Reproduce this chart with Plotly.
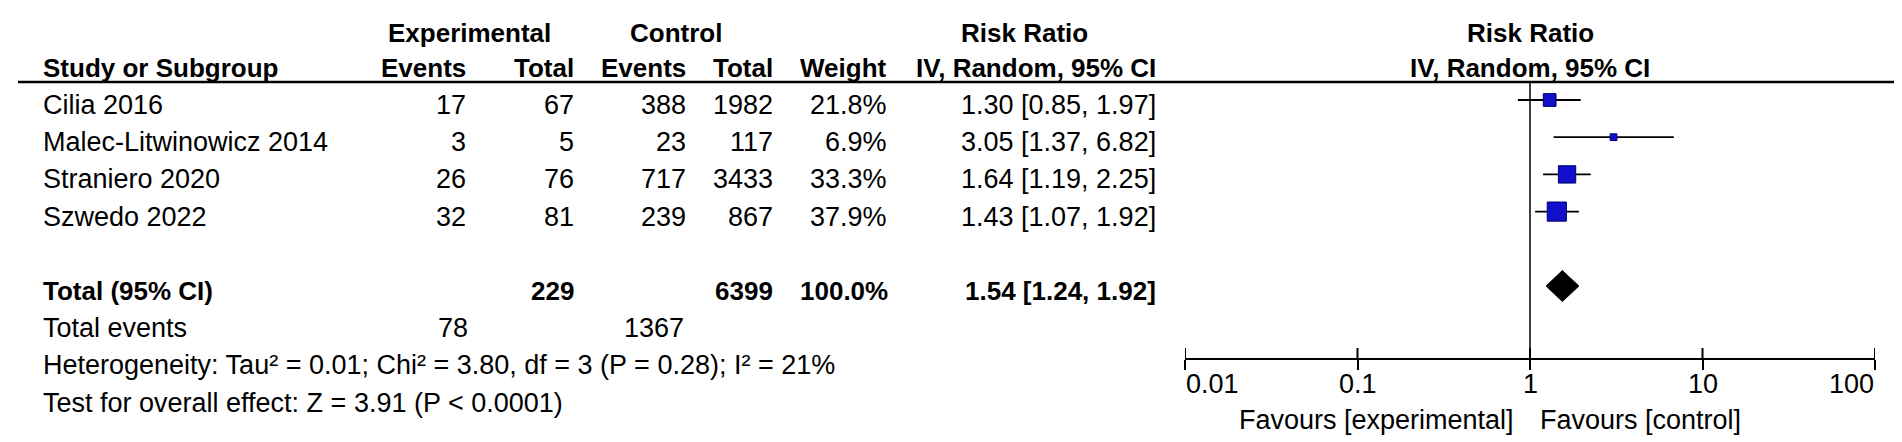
import math
import plotly.graph_objects as go

# ---------------- data ----------------
studies = ["Cilia 2016", "Malec-Litwinowicz 2014", "Straniero 2020", "Szwedo 2022"]
exp_events = [17, 3, 26, 32]
exp_total = [67, 5, 76, 81]
ctl_events = [388, 23, 717, 239]
ctl_total = [1982, 117, 3433, 867]
weights = [21.8, 6.9, 33.3, 37.9]
rr = [1.30, 3.05, 1.64, 1.43]
ci_low = [0.85, 1.37, 1.19, 1.07]
ci_high = [1.97, 6.82, 2.25, 1.92]

total_label = "Total (95% CI)"
total_exp = 229
total_ctl = 6399
total_weight = "100.0%"
pooled_rr = 1.54
pooled_low = 1.24
pooled_high = 1.92

events_label = "Total events"
total_exp_events = 78
total_ctl_events = 1367

heterogeneity = "Heterogeneity: Tau² = 0.01; Chi² = 3.80, df = 3 (P = 0.28); I² = 21%"
overall = "Test for overall effect: Z = 3.91 (P < 0.0001)"

axis_ticks = [0.01, 0.1, 1, 10, 100]
axis_tick_labels = ["0.01", "0.1", "1", "10", "100"]
favours_left = "Favours [experimental]"
favours_right = "Favours [control]"

# ---------------- layout constants ----------------
W, H = 1902, 442
FONT = "Liberation Sans, Arial, sans-serif"
NORM = 27
BOLD = 26
AX_LEFT, AX_RIGHT = 1177, 1867
AX_Y = 350
HLINE_Y = 74
ROW0, STEP = 97, 37.2
MARK_SHIFT = -5
HEAD1_Y, HEAD2_Y = 25, 60
TICKLAB_Y, FAV_Y = 376, 412

def row_y(i):
    return ROW0 + i * STEP

COL_NAME = 34
COL_EXP_EV = 459
COL_EXP_TOT = 567
COL_CTL_EV = 679
COL_CTL_TOT = 766
COL_W = 880
COL_CI = 1149

fig = go.Figure()

def txt(x, y, s, anchor="right", bold=False, size=None):
    fig.add_annotation(
        x=x / W, y=1 - y / H, xref="paper", yref="paper",
        text=f"<b>{s}</b>" if bold else s, showarrow=False,
        xanchor=anchor, yanchor="middle", borderpad=0,
        font=dict(family=FONT, size=size or (BOLD if bold else NORM), color="black"),
    )

# header
txt(461, HEAD1_Y, "Experimental", "center", True)
txt(668, HEAD1_Y, "Control", "center", True)
txt(1016, HEAD1_Y, "Risk Ratio", "center", True)
txt(COL_NAME, HEAD2_Y, "Study or Subgroup", "left", True)
txt(COL_EXP_EV, HEAD2_Y, "Events", "right", True)
txt(COL_EXP_TOT, HEAD2_Y, "Total", "right", True)
txt(COL_CTL_EV, HEAD2_Y, "Events", "right", True)
txt(COL_CTL_TOT, HEAD2_Y, "Total", "right", True)
txt(COL_W, HEAD2_Y, "Weight", "right", True)
txt(COL_CI, HEAD2_Y, "IV, Random, 95% CI", "right", True)

# plot headers centred on the line of no effect
for yy, s in [(HEAD1_Y, "Risk Ratio"), (HEAD2_Y, "IV, Random, 95% CI")]:
    fig.add_annotation(x=math.log10(1), y=1 - yy / H, xref="x", yref="paper", text=f"<b>{s}</b>",
                       showarrow=False, xanchor="center", yanchor="middle", borderpad=0,
                       font=dict(family=FONT, size=BOLD, color="black"))

fig.add_shape(type="line", xref="paper", yref="paper", x0=10 / W, x1=1891 / W,
              y0=1 - HLINE_Y / H, y1=1 - HLINE_Y / H, line=dict(color="black", width=2.5))

# study rows
for i, s in enumerate(studies):
    y = row_y(i)
    txt(COL_NAME, y, s, "left")
    txt(COL_EXP_EV, y, str(exp_events[i]))
    txt(COL_EXP_TOT, y, str(exp_total[i]))
    txt(COL_CTL_EV, y, str(ctl_events[i]))
    txt(COL_CTL_TOT, y, str(ctl_total[i]))
    txt(COL_W, y, f"{weights[i]:.1f}%")
    txt(COL_CI, y, f"{rr[i]:.2f} [{ci_low[i]:.2f}, {ci_high[i]:.2f}]")

# total rows
yt = row_y(5)
txt(COL_NAME, yt, total_label, "left", True)
txt(COL_EXP_TOT, yt, str(total_exp), "right", True)
txt(COL_CTL_TOT, yt, str(total_ctl), "right", True)
txt(COL_W + 1, yt, total_weight, "right", True)
txt(COL_CI, yt, f"{pooled_rr:.2f} [{pooled_low:.2f}, {pooled_high:.2f}]", "right", True)

ye = row_y(6)
txt(COL_NAME, ye, events_label, "left")
txt(COL_EXP_EV + 2, ye, str(total_exp_events))
txt(COL_CTL_EV - 2, ye, str(total_ctl_events))
txt(COL_NAME, row_y(7), heterogeneity, "left")
txt(COL_NAME, row_y(8), overall, "left")

# ---------------- forest plot ----------------
study_y = [row_y(i) + MARK_SHIFT for i in range(len(studies))]

# line of no effect
fig.add_trace(go.Scatter(x=[1, 1], y=[HLINE_Y, AX_Y], mode="lines",
                         line=dict(color="black", width=1.5), hoverinfo="skip", showlegend=False))

# upper halves of axis ticks
tx, ty = [], []
for t in axis_ticks:
    tx += [t, t, None]
    ty += [AX_Y - 10, AX_Y, None]
fig.add_trace(go.Scatter(x=tx, y=ty, mode="lines", line=dict(color="black", width=2),
                         hoverinfo="skip", showlegend=False))

# study estimates with CIs
fig.add_trace(go.Scatter(
    x=rr, y=study_y, mode="markers",
    marker=dict(symbol="square", size=[4 + 0.4 * w for w in weights], color="#1010CC",
                opacity=1, line=dict(color="#00006A", width=1)),
    error_x=dict(type="data", symmetric=False,
                 array=[h - r for h, r in zip(ci_high, rr)],
                 arrayminus=[r - l for r, l in zip(rr, ci_low)],
                 color="black", thickness=1.8, width=0),
    hoverinfo="skip", showlegend=False))

# pooled diamond
yd = yt + MARK_SHIFT
dh = 15.5
fig.add_trace(go.Scatter(
    x=[pooled_low, pooled_rr, pooled_high, pooled_rr, pooled_low],
    y=[yd, yd - dh, yd, yd + dh, yd], mode="lines", fill="toself",
    fillcolor="black", line=dict(color="black", width=1), hoverinfo="skip", showlegend=False))

# tick labels (end labels pulled inward, as in the original)
for k, (t, lab) in enumerate(zip(axis_ticks, axis_tick_labels)):
    anchor = "left" if k == 0 else ("right" if k == len(axis_ticks) - 1 else "center")
    fig.add_annotation(x=math.log10(t), y=1 - TICKLAB_Y / H, xref="x", yref="paper",
                       text=lab, showarrow=False, xanchor=anchor, yanchor="middle", borderpad=0,
                       font=dict(family=FONT, size=NORM, color="black"))

txt(1507, FAV_Y, favours_left, "right")
txt(1531, FAV_Y, favours_right, "left")

fig.update_layout(
    width=W, height=H, margin=dict(l=0, r=0, t=0, b=0),
    paper_bgcolor="white", plot_bgcolor="white", showlegend=False,
    xaxis=dict(type="log", range=[math.log10(axis_ticks[0]), math.log10(axis_ticks[-1])],
               domain=[AX_LEFT / W, AX_RIGHT / W],
               showline=True, linecolor="black", linewidth=2,
               ticks="outside", ticklen=10, tickwidth=2, tickcolor="black",
               tickvals=axis_ticks, showticklabels=False,
               showgrid=False, zeroline=False, fixedrange=True),
    yaxis=dict(range=[AX_Y, 0], domain=[(H - AX_Y) / H, 1], visible=False, fixedrange=True),
)

fig.write_html("out.html")
